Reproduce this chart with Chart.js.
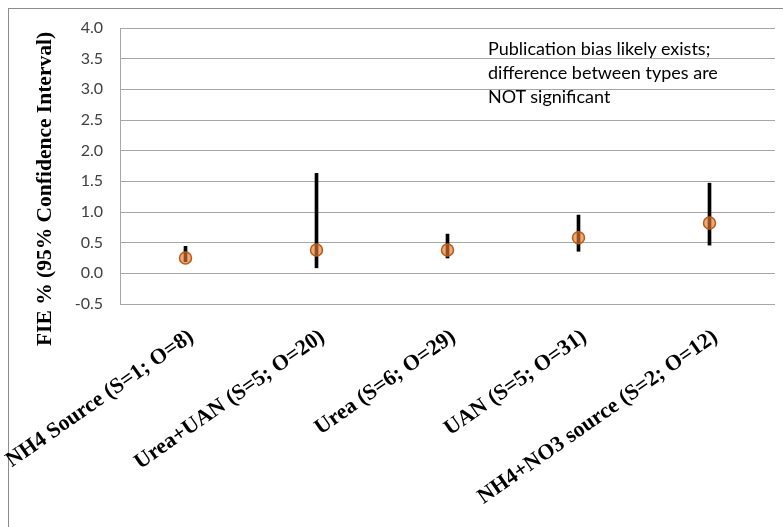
<!DOCTYPE html>
<html>
<head>
    <title>FIE by N source</title>
    <script src="https://cdn.jsdelivr.net/npm/chart.js"></script>
    <style>
        body { margin: 0; background: #fff; overflow: hidden; }
        .wrap { position: relative; width: 783px; height: 527px; }
        .frame { position: absolute; left: 8px; top: 8px; width: 820px; height: 600px; border: 1px solid #8c8c8c; }
        .note { position: absolute; left: 488px; top: 36px; font-family: Lato, sans-serif; font-size: 18px; line-height: 24px; color: #000; }
        canvas { position: absolute; left: 0; top: 0; }
    </style>
</head>
<body>
    <div class="wrap">
        <div class="frame"></div>
        <canvas id="fieChart" width="783" height="527"></canvas>
        <div class="note">Publication bias likely exists;<br>difference between types are<br>NOT significant</div>
    </div>

    <script>
        // Fertilizer types (x labels) and FIE % with 95% CI
        const categories = ['NH4 Source (S=1; O=8)', 'Urea+UAN (S=5; O=20)', 'Urea (S=6; O=29)', 'UAN (S=5; O=31)', 'NH4+NO3 source (S=2; O=12)'];
        const fieMean = [0.25, 0.38, 0.38, 0.58, 0.82];
        const ciLow = [0.19, 0.09, 0.25, 0.36, 0.46];
        const ciHigh = [0.44, 1.63, 0.64, 0.95, 1.47];
        const yTitle = 'FIE % (95% Confidence Interval)';

        // y title drawn a bit below the axis centre, like the original
        const yTitlePlugin = {
            id: 'yTitle',
            afterDraw(chart) {
                const c = chart.ctx;
                const area = chart.chartArea;
                c.save();
                c.translate(chart.scales.y.left + 16, (area.top + area.bottom) / 2 + 23);
                c.rotate(-Math.PI / 2);
                c.font = 'bold 21.5px "Liberation Serif"';
                c.fillStyle = '#000';
                c.textAlign = 'center';
                c.textBaseline = 'middle';
                c.fillText(yTitle, 0, 0);
                c.restore();
            }
        };

        const ctx = document.getElementById('fieChart').getContext('2d');
        const chart = new Chart(ctx, {
            type: 'bar',
            data: {
                labels: categories,
                datasets: [
                    {
                        label: '95% CI',
                        data: categories.map((c, i) => [ciLow[i], ciHigh[i]]),
                        backgroundColor: '#000',
                        barThickness: 3,
                        order: 2
                    },
                    {
                        type: 'line',
                        label: 'FIE %',
                        data: fieMean,
                        showLine: false,
                        pointRadius: 6,
                        pointBorderWidth: 1.5,
                        pointBackgroundColor: 'rgba(226, 122, 48, 0.65)',
                        pointBorderColor: '#b95a17',
                        order: 1
                    }
                ]
            },
            options: {
                responsive: false,
                animation: false,
                layout: { padding: { left: 29, top: 28, right: 8, bottom: 0 } },
                plugins: { legend: { display: false }, tooltip: { enabled: false } },
                scales: {
                    x: {
                        grid: { display: false, drawTicks: false },
                        border: { display: false },
                        afterFit: axis => {
                            axis.height = 223;
                            axis.paddingLeft = 0;
                            axis.paddingRight = 0;
                        },
                        ticks: {
                            autoSkip: false,
                            minRotation: 35,
                            maxRotation: 35,
                            padding: 20,
                            labelOffset: 6,
                            color: '#000',
                            font: { family: '"Liberation Serif"', size: 22, weight: 'bold' }
                        }
                    },
                    y: {
                        min: -0.5,
                        max: 4.0,
                        grid: { color: '#a6a6a6', drawTicks: false },
                        border: { display: true, color: '#a6a6a6' },
                        afterFit: axis => { axis.width = 91; },
                        ticks: {
                            stepSize: 0.5,
                            padding: 17,
                            color: '#404040',
                            font: { family: 'Lato', size: 16 },
                            callback: v => v.toFixed(1)
                        }
                    }
                }
            },
            plugins: [yTitlePlugin]
        });
    </script>
</body>
</html>
